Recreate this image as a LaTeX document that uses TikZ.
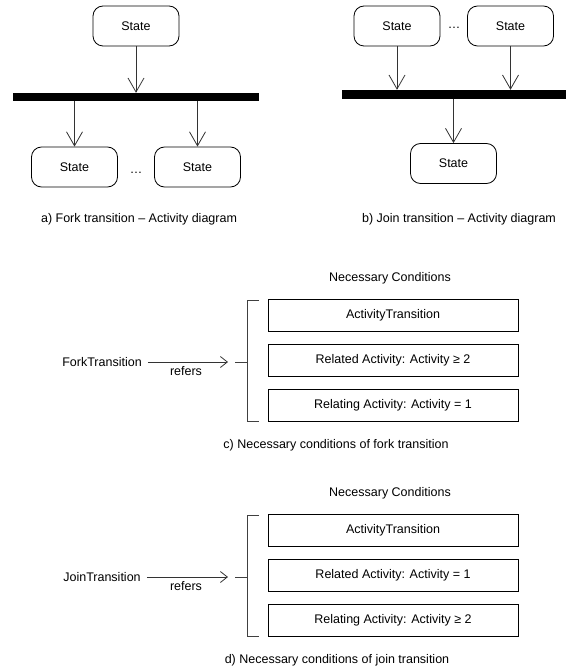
\documentclass[tikz,border=0pt]{standalone}
\usepackage{fontspec}
\setmainfont{Liberation Sans}
\usetikzlibrary{arrows.meta}
\begin{document}
\begin{tikzpicture}[x=1pt,y=-1pt,
  every node/.style={font=\fontsize{12.5}{14}\selectfont, inner sep=0pt},
  statebox/.style={draw, rounded corners=10pt, minimum width=86pt, minimum height=40pt, line width=0.8pt},
  barnode/.style={fill=black, draw=none, inner sep=0pt},
  condbox/.style={draw, minimum width=250pt, minimum height=32pt, line width=0.8pt},
  bigarrow/.style={draw=black!80, line width=0.8pt, -{Straight Barb[length=14pt,width=16pt,line width=0.8pt]}},
  smallarrow/.style={draw=black!80, line width=0.8pt, -{Straight Barb[length=7pt,width=11pt,line width=0.8pt]}},
  bracketline/.style={draw=black!75, line width=0.8pt}]
\useasboundingbox (0,0) rectangle (570,671);

% ---- a) fork
\node[statebox] (sA) at (136,26) {State};
\node[barnode, minimum width=246pt, minimum height=8pt] (barA) at (136,97) {};
\node[statebox] (sAL) at (74.5,167) {State};
\node[statebox] (sAR) at (197.5,167) {State};
\node (dotsA) at (136,173) {…};
\draw[bigarrow] (sA.south) -- (sA.south |- barA.north);
\draw[bigarrow] (sAL.north |- barA.south) -- (sAL.north);
\draw[bigarrow] (sAR.north |- barA.south) -- (sAR.north);
\node (capA) at (139,219) {a) Fork transition – Activity diagram};

% ---- b) join
\node[statebox] (sB1) at (397,26) {State};
\node[statebox] (sB2) at (510.5,26) {State};
\node (dotsB) at (454,28) {…};
\node[barnode, minimum width=224pt, minimum height=9pt] (barB) at (454,94.5) {};
\node[statebox] (sB3) at (453.5,163.5) {State};
\draw[bigarrow] (sB1.south) -- (sB1.south |- barB.north);
\draw[bigarrow] (sB2.south) -- (sB2.south |- barB.north);
\draw[bigarrow] (sB3.north |- barB.south) -- (sB3.north);
\node (capB) at (459,219) {b) Join transition – Activity diagram};

% ---- c) fork conditions
\node (ncC) at (390,278) {Necessary Conditions};
\node[condbox] (c1) at (393,315) {ActivityTransition};
\node[condbox] (c2) at (393,360) {Related Activity: Activity ≥ 2};
\node[condbox] (c3) at (393,405) {Relating Activity: Activity = 1};
\coordinate (cbT) at (247,300);
\coordinate (cbB) at (247,421);
\coordinate (cbM) at (247,362);
\draw[bracketline] (259,300) -- (cbT) -- (cbB) -- (259,421);
\draw[bracketline] (cbM) -- (235,362);
\node (fork) at (102,362) {ForkTransition};
\coordinate (forkEnd) at (228,362);
\draw[smallarrow] ([xshift=6pt]fork.east) -- (forkEnd);
\node (refC) at (186,371) {refers};
\node (capC) at (336,445) {c) Necessary conditions of fork transition};

% ---- d) join conditions
\node (ncD) at (390,493) {Necessary Conditions};
\node[condbox] (d1) at (393,530.5) {ActivityTransition};
\node[condbox] (d2) at (393,575.5) {Related Activity: Activity = 1};
\node[condbox] (d3) at (393,620.5) {Relating Activity: Activity ≥ 2};
\coordinate (dbT) at (247,515);
\coordinate (dbB) at (247,636);
\coordinate (dbM) at (247,577);
\draw[bracketline] (259,515) -- (dbT) -- (dbB) -- (259,636);
\draw[bracketline] (dbM) -- (235,577);
\node (join) at (102,577) {JoinTransition};
\coordinate (joinEnd) at (228,577);
\draw[smallarrow] ([xshift=6pt]join.east) -- (joinEnd);
\node (refD) at (186,586) {refers};
\node (capD) at (337,660) {d) Necessary conditions of join transition};
\end{tikzpicture}
\end{document}
